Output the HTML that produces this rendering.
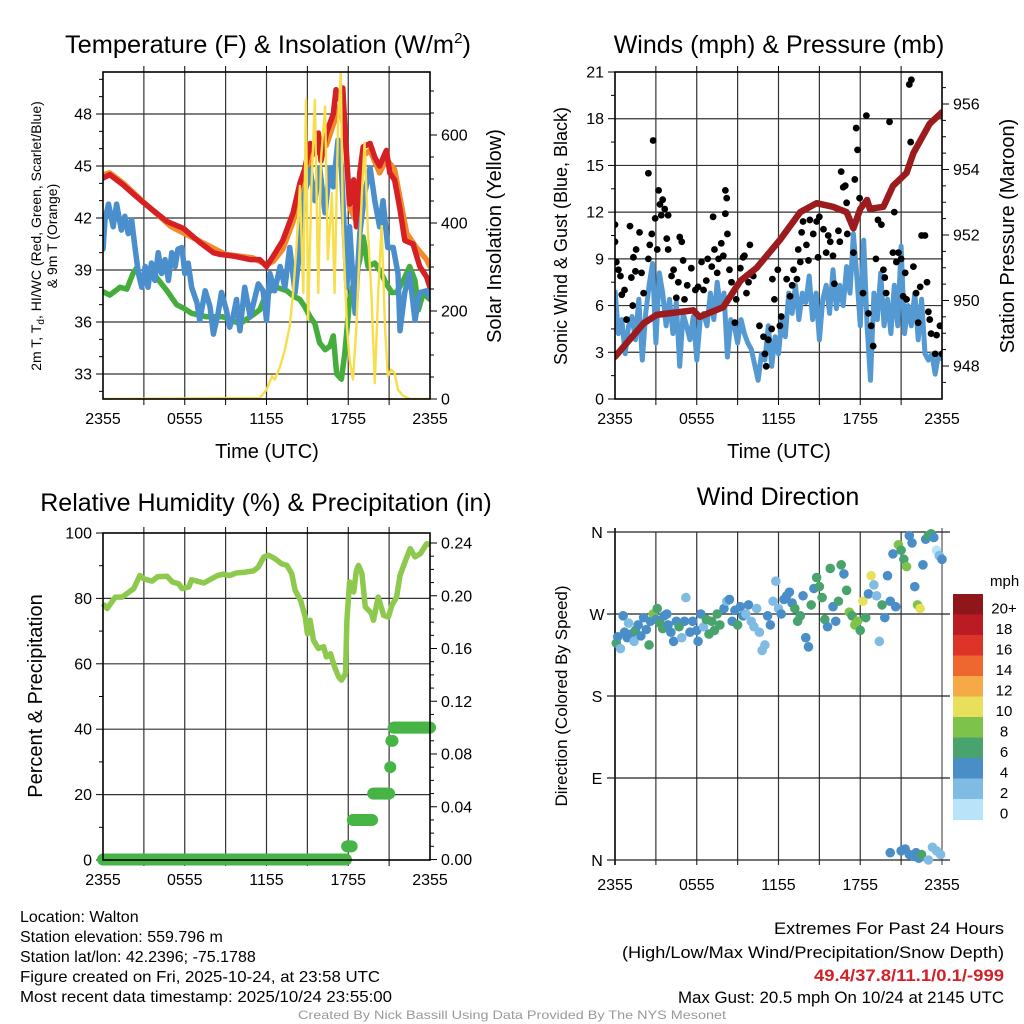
<!DOCTYPE html>
<html><head><meta charset="utf-8"><style>
html,body{margin:0;padding:0;background:#fff;}
svg{display:block;font-family:"Liberation Sans",Arial,sans-serif;}
</style></head><body>
<svg id="chart" width="1024" height="1024" viewBox="0 0 1024 1024" xmlns="http://www.w3.org/2000/svg">
<rect width="1024" height="1024" fill="#fff"/>
<g id="p1"></g>
<g id="p2"></g>
<g id="p3"></g>
<g id="p4"></g>
<g font-size="25" text-anchor="middle" fill="#000">
<text x="268" y="53" textLength="406" lengthAdjust="spacingAndGlyphs">Temperature (F) &amp; Insolation (W/m<tspan font-size="15" dy="-10">2</tspan><tspan dy="10">)</tspan></text>
<text x="779" y="53">Winds (mph) &amp; Pressure (mb)</text>
<text x="266" y="511">Relative Humidity (%) &amp; Precipitation (in)</text>
<text x="778" y="505">Wind Direction</text>
</g>
<g fill="#000" text-anchor="middle">
<text x="267" y="458" font-size="20">Time (UTC)</text>
<text x="779" y="458" font-size="20">Time (UTC)</text>
<text transform="translate(41,236) rotate(-90)" font-size="14">2m T, T<tspan font-size="10" dy="3">d</tspan><tspan dy="-3">, HI/WC (Red, Green, Scarlet/Blue)</tspan></text>
<text transform="translate(57,236) rotate(-90)" font-size="14">&amp; 9m T (Orange)</text>
<text transform="translate(501,236) rotate(-90)" font-size="20">Solar Insolation (Yellow)</text>
<text transform="translate(567,236) rotate(-90)" font-size="18">Sonic Wind &amp; Gust (Blue, Black)</text>
<text transform="translate(1014,236) rotate(-90)" font-size="20">Station Pressure (Maroon)</text>
<text transform="translate(42,696) rotate(-90)" font-size="20">Percent &amp; Precipitation</text>
<text transform="translate(567,696) rotate(-90)" font-size="17">Direction (Colored By Speed)</text>
</g>
<g font-size="16" fill="#000">
<text x="20" y="922">Location: Walton</text>
<text x="20" y="942">Station elevation: 559.796 m</text>
<text x="20" y="962">Station lat/lon: 42.2396; -75.1788</text>
<text x="20" y="982" textLength="360" lengthAdjust="spacingAndGlyphs">Figure created on Fri, 2025-10-24, at 23:58 UTC</text>
<text x="20" y="1002" textLength="372" lengthAdjust="spacingAndGlyphs">Most recent data timestamp: 2025/10/24 23:55:00</text>
</g>
<g font-size="16.5" fill="#000" text-anchor="end">
<text x="1004" y="934" textLength="230" lengthAdjust="spacingAndGlyphs">Extremes For Past 24 Hours</text>
<text x="1004" y="958" textLength="382" lengthAdjust="spacingAndGlyphs">(High/Low/Max Wind/Precipitation/Snow Depth)</text>
<text x="1004" y="981" fill="#d42027" font-weight="bold" textLength="190" lengthAdjust="spacingAndGlyphs">49.4/37.8/11.1/0.1/-999</text>
<text x="1004" y="1003" textLength="326" lengthAdjust="spacingAndGlyphs">Max Gust: 20.5 mph On 10/24 at 2145 UTC</text>
</g>
<text x="512" y="1019" font-size="12" fill="#999" text-anchor="middle" textLength="428" lengthAdjust="spacingAndGlyphs">Created By Nick Bassill Using Data Provided By The NYS Mesonet</text>
</svg>
<script>
// ---------- data ----------
const timeLabels = ["2355","0555","1155","1755","2355"];
// Temperature panel
const redH = [0,0.5,1.5,2.2,2.95,3.9,4.7,5.9,7.1,8.1,8.6,9.6,10.8,11.5,12,12.5,13.2,13.95,14.45,14.8,15.2,15.55,15.8,16,16.4,16.9,17.1,17.4,17.6,17.75,18.1,18.4,18.6,18.85,19.1,19.6,19.95,20.3,20.8,21.05,21.4,21.8,22.15,22.75,23.25,23.75,24];
const redT = [44.3,44.5,43.9,43.4,42.9,42.3,41.8,41.4,40.6,40,39.9,39.8,39.6,39.6,39.2,39.8,40.7,42.3,44,44.8,46.3,45.7,46.9,45.3,46.9,48,49.4,48.8,49.5,47.3,42.8,44.2,41.5,44.6,46.1,46.3,45.5,45,45.9,44.6,44.2,42.5,40.7,40.5,39.2,38.6,38];
const orangeH = [0,0.5,1.5,3,5,7,9,11,12,12.5,13.2,13.95,14.45,15.2,15.8,16.4,16.9,17.4,17.75,18.1,18.6,19.1,19.6,20.3,20.8,21.4,22.3,23,23.75,24];
const orangeT = [44.5,44.6,44,42.9,41.5,40.7,39.9,39.7,39.3,39.5,40.2,41.8,43.4,45.5,46.2,46.2,47.4,48.5,47,42.6,41.8,45.6,45.9,44.6,45.4,44.8,41.1,40.3,39.6,39.2];
const blueH = [0,0.15,0.4,0.75,1,1.35,1.6,1.85,2.1,2.35,2.6,2.85,3.1,3.3,3.55,3.8,4.05,4.3,4.55,4.8,5.05,5.3,5.5,5.8,6,6.25,6.5,6.9,7.1,7.5,7.85,8.1,8.45,8.7,9.05,9.3,9.55,9.8,10.05,10.4,10.8,11.4,11.75,12,12.25,12.6,13,13.35,13.7,14.1,14.45,14.8,15.2,15.55,15.9,16.3,16.65,16.9,17.25,17.5,17.9,18.1,18.5,18.85,19.2,19.6,19.95,20.3,20.55,20.9,21.3,21.65,21.8,22.15,22.5,22.9,23.25,23.75,24];
const blueT = [40.2,41.9,42.8,41.5,42.8,41.3,42.1,41.1,41.9,40.3,38.8,38,39.2,38,39.4,38.4,40,38.8,39.6,38.4,40,39.2,40.2,40.3,38.8,39.4,38,37.1,36.1,37.8,36.9,35.3,36.5,37.7,36.7,35.7,36.3,37.3,35.5,38,36.3,38.2,37.8,36.1,38.8,37.8,39.2,38,40.3,37.7,40.3,43.4,44.8,43,44.9,42.3,44.9,43.8,46.5,44.9,38,41.5,36.5,41.1,43.4,44.9,43,41.5,43,40.3,40.3,38.8,35.5,37.7,38.8,36.1,37.7,37.8,37.4];
const greenH = [0,0.5,1.25,1.75,2.2,2.45,2.7,3.7,4.7,5.4,5.9,6.5,7.6,8.8,10.05,10.8,11.5,12,12.75,13.5,13.95,14.45,14.8,15.2,15.55,15.9,16.3,16.65,16.9,17.15,17.5,17.75,18.1,18.5,18.85,19.1,19.45,19.95,20.3,20.8,21.2,21.55,22.05,22.5,22.9,23.15,23.5,24];
const greenT = [37.75,37.55,38,37.9,38.8,39.1,38.6,38.8,37.8,37,36.8,36.5,36.3,36.3,35.9,36.3,36.7,37.65,38,37.8,37.5,37.3,36.9,36.3,35.9,34.8,34.4,34.6,35.2,33,32.7,34.2,37.3,38.6,39.6,40.9,39.2,39.4,39,38.2,37.7,37.7,38.4,39.2,38.4,36.7,37.65,37.3];
const solarH = [0,11.5,12,12.4,12.6,13,13.35,13.7,13.95,14.2,14.45,14.7,14.9,15.05,15.3,15.55,15.8,16,16.3,16.5,16.8,17,17.25,17.45,17.6,17.9,18.1,18.35,18.6,19,19.2,19.45,19.7,19.95,20.2,20.45,20.7,20.9,21.15,21.4,21.65,22,22.5,24];
const solarW = [0,2,21,52,44,74,112,165,241,347,484,241,680,180,484,680,241,544,665,317,468,241,620,741,393,165,89,44,165,468,582,377,241,36,241,393,165,52,67,59,21,8,0,0];
const tempTicks = [33,36,39,42,45,48];
const solarTicks = [0,200,400,600];
// Winds panel
const windH = [0,0.25,0.5,0.75,1,1.25,1.5,1.75,2,2.25,2.5,2.75,3,3.25,3.5,3.75,4,4.25,4.5,4.75,5,5.25,5.5,5.75,6,6.25,6.5,6.75,7,7.25,7.5,7.75,8,8.25,8.5,8.75,9,9.25,9.5,9.75,10,10.5,10.75,11,11.25,11.5,11.75,12,12.25,12.5,12.75,13,13.25,13.5,13.75,14,14.25,14.5,14.75,15,15.25,15.5,15.75,16,16.25,16.5,16.75,17,17.25,17.5,17.75,18,18.25,18.5,18.75,19,19.25,19.5,19.75,20,20.25,20.5,20.75,21,21.25,21.5,21.75,22,22.25,22.5,22.75,23,23.25,23.5,23.75,24];
const windV = [7,4.2,5.1,2.9,4.7,5.3,3.8,6.4,2.5,5.5,7.3,8.7,3.6,8.1,6.8,4.7,6.4,4.2,6.2,2.1,5.5,4.7,3.8,5.3,2.5,5.1,5.5,4.7,6.8,5.1,7.5,5.8,6.8,2.7,5.1,4.7,3.6,5.1,4.2,3.6,3.2,1.2,2.9,2.5,4.7,2.1,4,2.9,5.1,4,6.8,5.5,7.3,5.1,6.8,6.2,7.9,5.1,6.8,3.8,6.4,7.3,5.5,8.3,5.8,7.3,6,8.5,6.8,10.6,7.9,4.7,10.2,4.7,1.2,6.8,5.1,8.1,4.7,6.4,4.2,7.3,4.7,9.8,4.2,6,4.7,6.8,3.8,6.4,2.9,2.5,2.9,1.6,2.9,2.5];
const gustH = [0,0,0.1,0.25,0.4,0.5,0.7,0.85,1.1,1.2,1.3,1.35,1.5,1.55,1.8,1.95,2.1,2.45,2.45,2.55,2.7,2.8,2.95,3.1,3.2,3.3,3.5,3.4,3.65,3.8,3.9,3.9,4.15,4.3,4.5,4.65,4.75,4.9,5,5.1,5.3,5.6,5.9,6.1,6.35,6.5,6.7,6.8,7.1,7.2,7.3,7.5,7.6,7.8,7.95,8.1,8.1,8.2,8.25,8.4,8.55,8.8,8.9,9.2,9.4,9.5,9.65,9.8,9.9,10.15,10.6,10.9,11,11.1,11.25,11.5,11.55,11.7,11.95,12.1,12.2,12.6,12.85,13,13.1,13.35,13.45,13.6,13.7,13.8,14.05,14.2,14.3,14.55,14.8,14.9,15,15.3,15.5,15.65,15.8,16,16.1,16.4,16.5,16.6,16.75,16.9,17,17.05,17.5,17.6,17.7,17.8,17.95,18.2,18.45,18.6,18.8,18.95,19.15,19.3,19.55,19.7,19.8,19.9,20.15,20.4,20.5,20.65,20.8,21,21.15,21.3,21.4,21.6,21.75,21.7,21.9,22.1,22.25,22.4,22.5,22.75,22.9,23,23.1,23.2,23.5,23.6,23.85,24];
const gustV = [11.2,10.1,8.8,8.3,7.9,6.7,7,5.1,11.1,7.8,6,9.1,8.2,9.6,10.7,8.1,6.8,14.5,9,9.9,10.6,16.6,11.6,9.6,13.4,12.5,12.8,11.8,12.2,10.3,11.8,9.6,7.9,8.3,6.5,7.5,10.4,10.1,8.9,6.4,7.3,8.4,7,7.2,8.8,7,7.6,9,8.5,11.7,9.6,8.1,9,10,9.2,11.9,13.4,12.9,10.6,8.3,7.5,4.9,6.4,8.4,9.1,9.2,6.8,7.5,9.9,7.9,4.7,4,2.9,2.1,3.8,4.5,7.7,6.4,8.3,4.7,5.3,7.7,6.6,7.3,8.3,7.7,9.6,8.8,10.7,11.4,9.9,8.9,11.5,10.6,11.4,9.1,11.7,10.9,9.4,10.5,10.1,9.2,7.4,10.8,10.1,14.6,13.6,13.7,12.6,10.6,9.4,14.1,17.4,16,12.9,6.8,18.2,5.5,4.7,3.4,9,11.5,11.2,8.3,7.8,6.8,17.8,9.4,12,8.8,9.4,9,6.6,8.1,6.4,20.2,20.5,16.5,8.5,6.8,4.9,7.2,10.5,10.5,7.5,5.6,5.1,4.2,2.9,4.1,4.7,2.9];
const presH = [0,2.1,3.05,5.75,6.2,7.95,9.2,10.4,12.1,13.6,14.8,16,17,17.5,18,18.5,18.7,19.7,20.4,21.4,21.9,23.1,24];
const presMb = [948.28,949.3,949.56,949.7,949.5,949.8,950.6,951,951.85,952.7,952.97,952.86,952.7,952.2,952.8,953.07,952.8,952.86,953.5,953.9,954.5,955.4,955.75];
const windTicks = [0,3,6,9,12,15,18,21];
const presTicks = [948,950,952,954,956];
// Humidity panel
const rhH = [0,0.3,0.9,1.4,2.25,2.7,3,3.6,4,4.7,5.1,5.55,5.8,6.3,6.5,6.9,7.4,8.4,8.85,9.3,9.8,10.4,11.05,11.4,11.8,12.15,12.6,13.1,13.5,13.85,14.1,14.5,14.85,15,15.2,15.45,15.8,16.2,16.4,16.7,17,17.3,17.5,17.8,17.9,18.1,18.4,18.6,18.75,19,19.25,19.7,19.85,20.2,20.6,20.95,21.2,21.55,21.8,22.2,22.55,22.9,23.3,23.75,24];
const rhPct = [78.4,76.9,80.4,80.4,83,87,86,85.3,86.6,86.8,85,84.5,83,83.5,85.7,85.3,84.7,87,87.4,87,87.8,88,88.4,89.6,92.7,93.2,92.2,90.6,90.1,87.6,82.5,79.4,74.3,69.2,73.3,67.2,64.7,65.2,62.1,63.1,59,56,55,57,73.3,85,82,88.6,90.1,87.6,77.4,75.4,73.3,80.4,74.8,74.3,77.9,80.4,87,91.6,95.2,92.7,93.7,96.7,96.5];
const precipStepH = [0,17.9,18.3,19.8,21.05,21.15,21.25];
const precipStepIn = [0,0.01,0.03,0.05,0.07,0.09,0.10];
const rhTicks = [0,20,40,60,80,100];
const precipTicks = ["0.00","0.04","0.08","0.12","0.16","0.20","0.24"];
// Wind direction panel
const dirH = [0.1,0.2,0.4,0.6,0.7,0.9,1,1.2,1.4,1.5,1.7,1.9,2.1,2.3,2.5,2.6,2.8,3,3.1,3.3,3.5,3.6,3.8,3.9,4.1,4.3,4.5,4.7,4.9,5.1,5.2,5.5,5.7,6,6.1,6.3,6.5,6.7,6.9,7.1,7.3,7.5,7.7,8,8.2,8.4,8.6,8.8,9,9.2,9.4,9.6,9.8,10,10.2,10.4,10.6,10.8,11,11.2,11.4,11.6,11.8,12,12.2,12.4,12.6,12.8,13,13.2,13.4,13.6,13.8,14,14.2,14.4,14.6,14.8,15,15.2,15.4,15.6,15.8,16,16.2,16.4,16.6,16.8,17,17.2,17.4,17.6,17.8,18,18.2,18.4,18.6,18.8,19,19.2,19.4,19.6,19.8,20,20.2,20.4,20.6,20.8,21,21.2,21.4,21.6,21.8,22,22.2,22.4,22.6,22.8,23,23.2,23.4,23.6,23.8,24,20.2,21,21.3,21.6,21.9,22.1,22.3,22.5,23,23.3,23.6,23.9];
const dirDeg = [238,245,232,268,250,244,260,248,240,252,258,246,266,253,236,262,270,264,276,260,254,268,270,258,250,240,262,256,244,262,288,250,262,252,240,270,256,264,248,262,252,270,258,276,284,286,262,274,258,278,268,270,280,262,256,276,250,230,236,268,258,284,306,276,270,286,290,294,282,276,262,268,290,244,234,280,298,310,300,288,264,256,320,278,262,284,324,314,296,272,268,258,262,252,284,266,292,312,302,290,240,280,266,312,284,336,278,346,340,330,322,356,348,300,280,276,324,352,356,358,354,340,334,330,8,10,12,6,4,8,2,6,0,14,10,6];
const dirSpd = [6,4,2,4,4,4,2,4,2,6,4,4,4,4,6,4,8,4,6,6,6,4,4,4,4,4,4,6,2,4,2,4,4,4,4,4,2,6,6,6,6,6,6,4,2,4,4,4,6,4,4,2,4,2,2,2,2,2,2,4,4,2,2,2,4,4,4,4,4,6,6,6,4,4,4,6,4,6,6,6,6,4,6,4,4,6,6,4,6,8,6,8,8,6,10,6,4,10,2,2,2,6,4,4,4,4,4,8,6,6,8,4,4,4,8,10,4,4,6,6,4,0,2,4,4,4,4,4,4,4,4,6,2,2,2,2];
const dirTickLabels = ["N","W","S","E","N"];
const dirTickDeg = [360,270,180,90,0];
const legendLabels = ["0","2","4","6","8","10","12","14","16","18","20+"];
const legendColors = ["#b8e3f8","#80bbe4","#4a8ec8","#48a46c","#7dc24a","#e8e05a","#f5a947","#ef6730","#dd3328","#bb1c24","#8f1619"];

// ---------- helpers ----------
const NS="http://www.w3.org/2000/svg";
function mk(tag, attrs, parent){const e=document.createElementNS(NS,tag);for(const k in attrs)e.setAttribute(k,attrs[k]);parent.appendChild(e);return e;}
function linScale(d0,d1,r0,r1){return v=>r0+(v-d0)/(d1-d0)*(r1-r0);}
function pathOf(xs,ys,fx,fy){return xs.map((h,i)=>(i?"L":"M")+fx(h).toFixed(1)+","+fy(ys[i]).toFixed(1)).join("");}

function frame(g, L, R, T, B, fx){
  for(let h=3;h<24;h+=3){
    const l=mk("line",{x1:fx(h),x2:fx(h),y1:T,y2:B,stroke:"#333","stroke-width":1.2},g);
    
    
    mk("line",{x1:fx(h),x2:fx(h),y1:B,y2:B+6,stroke:"#000","stroke-width":1},g);
    mk("line",{x1:fx(h),x2:fx(h),y1:T,y2:T-6,stroke:"#000","stroke-width":1},g);
  }
  for(let i=0;i<timeLabels.length;i++){
    const h=i*6;
    const t=mk("text",{x:fx(h),y:B+25,"font-size":16,"text-anchor":"middle"},g);
    t.textContent=timeLabels[i];
    
    
  }
}
function box(g,L,R,T,B){
  const r=mk("rect",{x:L,y:T,width:R-L,height:B-T,fill:"none",stroke:"#000","stroke-width":1.6},g);
  
  
}
function hgrid(g,L,R,y){
  const l=mk("line",{x1:L,x2:R,y1:y,y2:y,stroke:"#333","stroke-width":1.2},g);
  
  
}
function ytick(g,x,y,dir,label,anchor,name){
  mk("line",{x1:x,x2:x+dir*7,y1:y,y2:y,stroke:"#000","stroke-width":1},g);
  if(label!==null){
    const t=mk("text",{x:x+dir*11,y:y+5.5,"font-size":16,"text-anchor":anchor},g);
    t.textContent=label;
    
    
  }
}

// ---------- panel 1 ----------
(function(){
  const g=document.getElementById("p1");
  const L=103,R=430,T=72,B=399;
  const fx=linScale(0,24,L,R), fy=linScale(33,48,374,114), fs=linScale(0,600,399,135);
  frame(g,L,R,T,B,fx);
  tempTicks.forEach(v=>{hgrid(g,L,R,fy(v));ytick(g,L,fy(v),-1,String(v),"end","temp-tick-label");});
  for(let v=32;v<=50;v++){ if(v%3&&fy(v)>T&&fy(v)<B) mk("line",{x1:L,x2:L-4,y1:fy(v),y2:fy(v),stroke:"#000"},g);}
  solarTicks.forEach(v=>ytick(g,R,fs(v),1,String(v),"start","solar-tick-label"));
  for(let v=50;v<=700;v+=50){ if(v%200) mk("line",{x1:R,x2:R+4,y1:fs(v),y2:fs(v),stroke:"#000"},g);}
  const clip=mk("clipPath",{id:"c1"},g); mk("rect",{x:L,y:T-4,width:R-L,height:B-T+4},clip);
  const s=mk("g",{"clip-path":"url(#c1)",fill:"none","stroke-linejoin":"round","stroke-linecap":"round"},g);
  const o=mk("path",{d:pathOf(orangeH,orangeT,fx,fy),stroke:"#f08a2c","stroke-width":5.5},s);
  
  
  const r=mk("path",{d:pathOf(redH,redT,fx,fy),stroke:"#d62024","stroke-width":5.5},s);
  
  
  const gr=mk("path",{d:pathOf(greenH,greenT,fx,fy),stroke:"#45ad3c","stroke-width":5.5},s);
  
  
  const b=mk("path",{d:pathOf(blueH,blueT,fx,fy),stroke:"#4a8ecb","stroke-width":5.5},s);
  
  
  const y=mk("path",{d:pathOf(solarH,solarW,fx,fs),stroke:"#f7de4a","stroke-width":2.4},s);
  
  
  box(g,L,R,T,B);
})();

// ---------- panel 2 ----------
(function(){
  const g=document.getElementById("p2");
  const L=615,R=942,T=72,B=399;
  const fx=linScale(0,24,L,R), fy=linScale(0,21,399,72), fp=linScale(948,956,366,104);
  frame(g,L,R,T,B,fx);
  windTicks.forEach(v=>{ if(v>0&&v<21) hgrid(g,L,R,fy(v)); ytick(g,L,fy(v),-1,String(v),"end","wind-tick-label");});
  for(let v=1.5;v<21;v+=3) mk("line",{x1:L,x2:L-4,y1:fy(v),y2:fy(v),stroke:"#000"},g);
  presTicks.forEach(v=>ytick(g,R,fp(v),1,String(v),"start","pressure-tick-label"));
  for(let v=947.5;v<=957;v+=0.5){ if(v%2) {const yy=fp(v); if(yy>T&&yy<B) mk("line",{x1:R,x2:R+4,y1:yy,y2:yy,stroke:"#000"},g);} }
  const clip=mk("clipPath",{id:"c2"},g); mk("rect",{x:L,y:T,width:R-L,height:B-T},clip);
  const s=mk("g",{"clip-path":"url(#c2)"},g);
  const w=mk("path",{d:pathOf(windH,windV,fx,fy),stroke:"#5499d2","stroke-width":5,fill:"none","stroke-linejoin":"round"},s);
  
  
  gustH.forEach((h,i)=>{
    const c=mk("circle",{cx:fx(h),cy:fy(gustV[i]),r:3.4,fill:"#000"},s);
    
    
  });
  const p=mk("path",{d:pathOf(presH,presMb,fx,fp),stroke:"#9b1b1e","stroke-width":6.5,fill:"none","stroke-linejoin":"round","stroke-linecap":"round"},s);
  
  
  box(g,L,R,T,B);
})();

// ---------- panel 3 ----------
(function(){
  const g=document.getElementById("p3");
  const L=103,R=430,T=533,B=860;
  const fx=linScale(0,24,L,R), fy=linScale(0,100,860,533), fp=linScale(0,0.24,859.5,543);
  frame(g,L,R,T,B,fx);
  rhTicks.forEach(v=>{ if(v>0&&v<100) hgrid(g,L,R,fy(v)); ytick(g,L,fy(v),-1,String(v),"end","humidity-tick-label");});
  for(let v=10;v<100;v+=20) mk("line",{x1:L,x2:L-4,y1:fy(v),y2:fy(v),stroke:"#000"},g);
  precipTicks.forEach(v=>ytick(g,R,fp(+v),1,v,"start","precip-tick-label"));
  for(let v=0.01;v<0.25;v+=0.01){ const k=Math.round(v*100); if(k%4) mk("line",{x1:R,x2:R+4,y1:fp(k/100),y2:fp(k/100),stroke:"#000"},g);}
  const rh=mk("path",{d:pathOf(rhH,rhPct,fx,fy),stroke:"#8dc94d","stroke-width":5.5,fill:"none","stroke-linejoin":"round"},g);
  
  
  const pg=mk("g",{fill:"#47b446"},g);
  for(let h=0;h<=24.001;h+=1/12){
    let v=0; precipStepH.forEach((sh,i)=>{ if(h>=sh) v=precipStepIn[i]; });
    const c=mk("circle",{cx:fx(h),cy:fp(v),r:6},pg);
    
    
  }
  box(g,L,R,T,B);
})();

// ---------- panel 4 ----------
(function(){
  const g=document.getElementById("p4");
  const L=615,R=950,T=532,B=860;
  const fx=linScale(0,24,615,942), fy=linScale(0,360,860,532);
  for(let h=3;h<24;h+=3){
    const l=mk("line",{x1:fx(h),x2:fx(h),y1:T,y2:B+5,stroke:"#333","stroke-width":1.2},g);
    
    
  }
  mk("line",{x1:fx(24),x2:fx(24),y1:T-4,y2:B+5,stroke:"#555","stroke-width":1.2},g);
  mk("line",{x1:L,x2:L,y1:T-4,y2:B+5,stroke:"#000","stroke-width":1.6},g);
  timeLabels.forEach((lab,i)=>{
    const t=mk("text",{x:fx(i*6),y:B+30,"font-size":16,"text-anchor":"middle"},g);
    t.textContent=lab;
    
    
  });
  dirTickDeg.forEach((d,i)=>{
    const y=fy(d);
    mk("line",{x1:L-8,x2:R,y1:y,y2:y,stroke:"#222","stroke-width":1.2},g);
    const t=mk("text",{x:597,y:y+6,"font-size":16,"text-anchor":"middle"},g);
    t.textContent=dirTickLabels[i];
    
    
  });
  const dg=mk("g",{},g);
  dirH.forEach((h,i)=>{
    const bin=Math.min(10,Math.floor(dirSpd[i]/2));
    const c=mk("circle",{cx:fx(h),cy:fy(dirDeg[i]),r:4.8,fill:legendColors[bin]},dg);
    
    
  });
  const lg=mk("g",{},g);
  
  
  const mt=mk("text",{x:990,y:586,"font-size":15},lg); mt.textContent="mph";
  
  
  const boxH=20.5, top=594;
  for(let i=0;i<legendColors.length;i++){
    const k=legendColors.length-1-i;
    const y=top+i*boxH;
    const r=mk("rect",{x:953,y:y,width:30,height:boxH+0.5,fill:legendColors[k]},lg);
    
    
    const t=mk("text",{x:1004,y:y+boxH/2+9,"font-size":15,"text-anchor":"middle"},lg);
    t.textContent=legendLabels[k];
    
    
  }
})();
</script>
</body></html>
